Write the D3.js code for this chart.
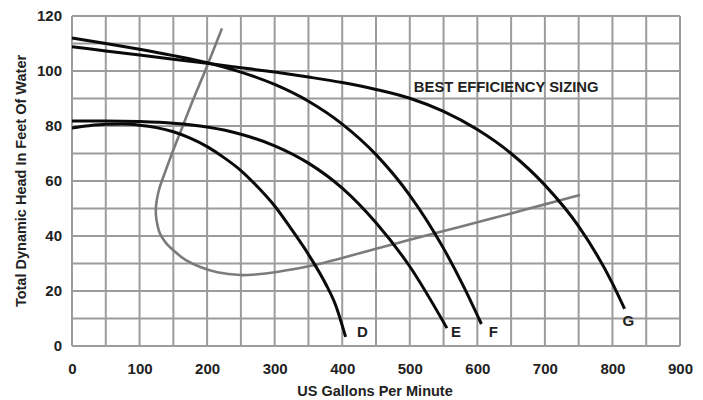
<!DOCTYPE html>
<html>
<head>
<meta charset="utf-8">
<script src="https://cdn.jsdelivr.net/npm/d3@7"></script>
<style>
  html, body { margin: 0; padding: 0; background: #fff; }
  svg { display: block; }
</style>
</head>
<body>
<svg id="chart" width="703" height="400"></svg>
<script>
// ---- data (GPM, feet of head) ----
const xTicks = [0, 100, 200, 300, 400, 500, 600, 700, 800, 900];
const yTicks = [0, 20, 40, 60, 80, 100, 120];
const xGrid = [0, 50, 100, 150, 200, 250, 300, 350, 400, 450, 500, 550, 600, 650, 700, 750, 800, 850, 900];
const yGrid = [0, 10, 20, 30, 40, 50, 60, 70, 80, 90, 100, 110, 120];

const curveD = [[0,79.3],[25,80.1],[50,80.6],[75,80.7],[100,80.3],[125,79.4],[150,77.9],[175,75.6],[200,72.5],[225,68.5],[250,63.8],[275,57.8],[300,50.9],[325,42.4],[350,33.3],[375,22.8],[390,15.0],[405,3.3]];
const curveE = [[0,81.8],[50,81.8],[100,81.6],[150,81.0],[200,79.6],[250,77.0],[300,72.8],[350,66.5],[400,57.4],[450,44.8],[500,28.9],[555,6.5]];
const curveF = [[0,112],[50,110],[100,107.9],[150,105.6],[200,103],[250,99.6],[300,95.1],[350,89],[400,80.7],[450,69.6],[500,54.8],[550,35.5],[580,21.5],[606,8]];
const curveG = [[0,108.8],[50,107.3],[100,105.8],[150,104.3],[200,102.8],[250,101.2],[300,99.6],[350,97.8],[400,95.8],[450,93.3],[500,90.1],[550,85.3],[600,78.7],[650,70.0],[700,58.5],[750,43.5],[800,22.8],[818,13.5]];
const efficiencyPath = [[222,115.5],[197,100],[180,90],[164,80],[148,70],[136,62],[129,57],[125.5,53],[124,49.5],[125,46],[130,41],[139,37.5],[150,34.8],[168,31.3],[190,28.7],[215,26.8],[249,25.8],[275,26.1],[300,26.8],[325,27.8],[350,29.0],[375,30.4],[400,32.0],[450,35.4],[500,38.6],[550,41.8],[600,45.0],[650,48.2],[700,51.5],[752,54.9]];

const pumpLabels = [
  {name: "D", gpm: 422, head: 3.3},
  {name: "E", gpm: 561, head: 3.3},
  {name: "F", gpm: 617, head: 3.3},
  {name: "G", gpm: 815, head: 7.3}
];
const noteText = "BEST EFFICIENCY SIZING";
const noteAt = {gpm: 506, head: 92.3};
const xTitle = "US Gallons Per Minute";
const yTitle = "Total Dynamic Head In Feet Of Water";

// ---- drawing ----
const svg = d3.select("#chart");
const x = d3.scaleLinear().domain([0, 900]).range([72, 680]);
const y = d3.scaleLinear().domain([0, 120]).range([346, 16]);
const FONT = "'Liberation Sans', Arial, Helvetica, sans-serif";
const TXT = "#222";

// grid
const grid = svg.append("g").attr("stroke", "#9c9c9c").attr("stroke-width", 2);
grid.selectAll("line.v").data(xGrid).join("line").attr("class", "v")
  .attr("x1", d => x(d)).attr("x2", d => x(d)).attr("y1", y(0)).attr("y2", y(120));
grid.selectAll("line.h").data(yGrid).join("line").attr("class", "h")
  .attr("x1", x(0)).attr("x2", x(900)).attr("y1", d => y(d)).attr("y2", d => y(d));

// axes (labels only)
const xAxis = svg.append("g").attr("transform", `translate(0,${y(0)})`)
  .call(d3.axisBottom(x).tickValues(xTicks).tickSize(0).tickPadding(17));
const yAxis = svg.append("g").attr("transform", `translate(${x(0)},0)`)
  .call(d3.axisLeft(y).tickValues(yTicks).tickSize(0).tickPadding(10));
[xAxis, yAxis].forEach(g => {
  g.select(".domain").remove();
  g.selectAll("text").attr("font-family", FONT).attr("font-size", 15)
    .attr("font-weight", "bold").attr("fill", TXT);
});

// efficiency (system) curve
const pathGen = d3.line().x(d => x(d[0])).y(d => y(d[1])).curve(d3.curveCatmullRom.alpha(0.5));
svg.append("path").datum(efficiencyPath).attr("d", pathGen)
  .attr("fill", "none").attr("stroke", "#7b7b7b").attr("stroke-width", 2.6);

// pump curves
const pumpGen = d3.line().x(d => x(d[0])).y(d => y(d[1])).curve(d3.curveMonotoneX);
[curveD, curveE, curveF, curveG].forEach(c => {
  svg.append("path").datum(c).attr("d", pumpGen)
    .attr("fill", "none").attr("stroke", "#0a0a0a").attr("stroke-width", 3);
});

// pump labels
svg.selectAll("text.pump").data(pumpLabels).join("text").attr("class", "pump")
  .attr("x", d => x(d.gpm)).attr("y", d => y(d.head))
  .attr("font-family", FONT).attr("font-size", 15).attr("font-weight", "bold")
  .attr("fill", TXT).text(d => d.name);

// note
svg.append("text").attr("x", x(noteAt.gpm)).attr("y", y(noteAt.head))
  .attr("font-family", FONT).attr("font-size", 14.8).attr("font-weight", "bold")
  .attr("fill", TXT).text(noteText);

// axis titles
svg.append("text").attr("x", 375).attr("y", 396).attr("text-anchor", "middle")
  .attr("font-family", FONT).attr("font-size", 14.5).attr("font-weight", "bold")
  .attr("fill", TXT).text(xTitle);
svg.append("text").attr("transform", "translate(26,181) rotate(-90)").attr("text-anchor", "middle")
  .attr("font-family", FONT).attr("font-size", 14.5).attr("font-weight", "bold")
  .attr("fill", TXT).text(yTitle);
</script>
</body>
</html>
